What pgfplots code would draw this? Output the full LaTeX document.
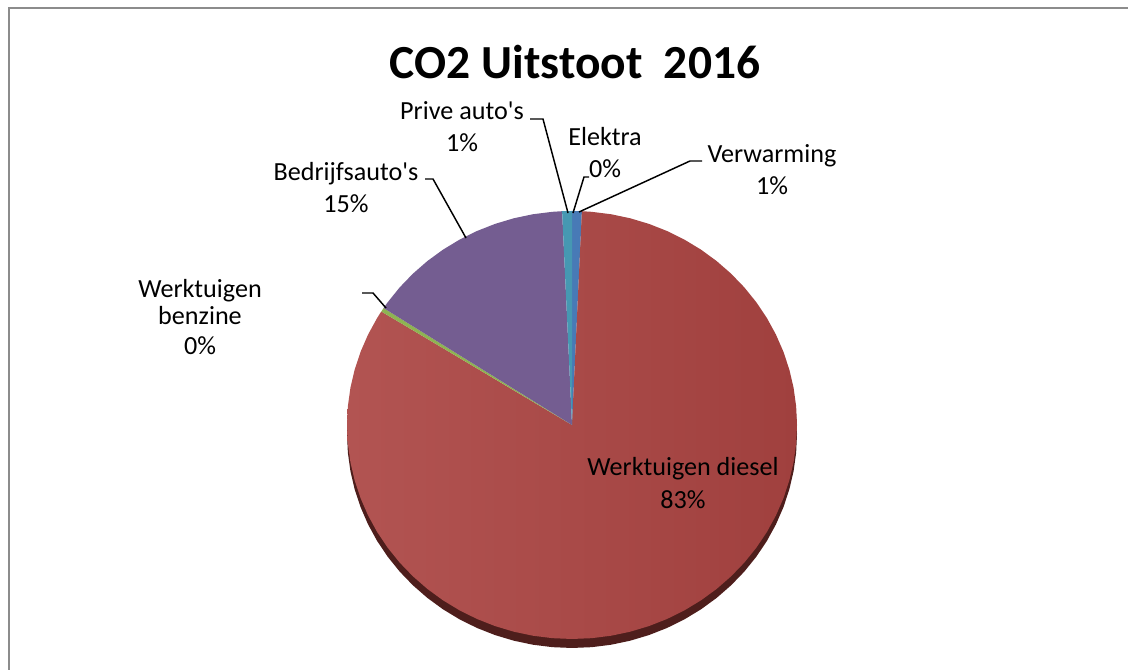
\documentclass[border=0pt]{standalone}
\usepackage{fontspec}
\setmainfont{Carlito}
\usepackage{pgfplots}
\pgfplotsset{compat=1.18}
\definecolor{cBlue}{RGB}{72,122,182}
\definecolor{cRedL}{RGB}{178,84,82}
\definecolor{cRedR}{RGB}{160,64,62}
\definecolor{cGreen}{RGB}{142,180,82}
\definecolor{cPurple}{RGB}{116,93,145}
\definecolor{cAqua}{RGB}{70,152,178}
\definecolor{cShadow}{RGB}{78,30,28}
\definecolor{cBorder}{RGB}{140,140,140}
\newcommand{\lbl}{\fontsize{19.6pt}{24pt}\selectfont}
\newcommand{\q}{\textquotesingle}
\pgfplotsset{
  pieaxis/.style={anchor=south west, scale only axis, width=846pt, height=502.5pt,
    xmin=-2.5422, xmax=2.4711, ymin=-1.1449, ymax=1.9860, hide axis, clip=false},
}
% Shares (%): Verwarming 0.7, Werktuigen diesel 83.2, Werktuigen benzine 0.3,
% Bedrijfsauto's 15.1, Prive auto's 0.7, Elektra 0.0 -> slice angles below (clockwise from top)
\begin{document}
\begin{tikzpicture}
% 3D side band of the pie
\begin{axis}[pieaxis, at={(0,-6.75pt)}]
\addplot[data cs=polar, fill=cShadow, draw=none] coordinates {(0,0) (87.48,1) (85,1) (80,1) (75,1) (70,1) (65,1) (60,1) (55,1) (50,1) (45,1) (40,1) (35,1) (30,1) (25,1) (20,1) (15,1) (10,1) (5,1) (0,1) (-5,1) (-10,1) (-15,1) (-20,1) (-25,1) (-30,1) (-35,1) (-40,1) (-45,1) (-50,1) (-55,1) (-60,1) (-65,1) (-70,1) (-75,1) (-80,1) (-85,1) (-90,1) (-95,1) (-100,1) (-105,1) (-110,1) (-115,1) (-120,1) (-125,1) (-130,1) (-135,1) (-140,1) (-145,1) (-150,1) (-155,1) (-160,1) (-165,1) (-170,1) (-175,1) (-180,1) (-185,1) (-190,1) (-195,1) (-200,1) (-205,1) (-210,1) (-212.04,1)} -- cycle;
\end{axis}
% pie top
\begin{axis}[pieaxis, at={(0,0)}]
% Verwarming 0.7%
\addplot[data cs=polar, fill=cBlue, draw=none] coordinates {(0,0) (90,1) (88.7,1) (87.48,1)} -- cycle;
% Werktuigen diesel 83.2%
\addplot[data cs=polar, draw=none, left color=cRedL, right color=cRedR] coordinates {(0,0) (87.48,1) (85,1) (80,1) (75,1) (70,1) (65,1) (60,1) (55,1) (50,1) (45,1) (40,1) (35,1) (30,1) (25,1) (20,1) (15,1) (10,1) (5,1) (0,1) (-5,1) (-10,1) (-15,1) (-20,1) (-25,1) (-30,1) (-35,1) (-40,1) (-45,1) (-50,1) (-55,1) (-60,1) (-65,1) (-70,1) (-75,1) (-80,1) (-85,1) (-90,1) (-95,1) (-100,1) (-105,1) (-110,1) (-115,1) (-120,1) (-125,1) (-130,1) (-135,1) (-140,1) (-145,1) (-150,1) (-155,1) (-160,1) (-165,1) (-170,1) (-175,1) (-180,1) (-185,1) (-190,1) (-195,1) (-200,1) (-205,1) (-210,1) (-212.04,1)} -- cycle;
% Werktuigen benzine 0.3%
\addplot[data cs=polar, fill=cGreen, draw=none] coordinates {(0,0) (-212.04,1) (-213.12,1)} -- cycle;
% Bedrijfsauto's 15.1%
\addplot[data cs=polar, fill=cPurple, draw=none] coordinates {(0,0) (-213.12,1) (-215,1) (-220,1) (-225,1) (-230,1) (-235,1) (-240,1) (-245,1) (-250,1) (-255,1) (-260,1) (-265,1) (-267.48,1)} -- cycle;
% Prive auto's 0.7%
\addplot[data cs=polar, fill=cAqua, draw=none] coordinates {(0,0) (-267.48,1) (-268.7,1) (-270,1)} -- cycle;
\end{axis}
% annotations in pixel coordinates
\begin{axis}[at={(0,0)}, anchor=south west, scale only axis, width=846pt, height=502.5pt,
  xmin=0, xmax=1128, ymin=0, ymax=670, y dir=reverse, hide axis, clip=false]
\fill[cBorder] (axis cs:8,672) rectangle (axis cs:10,6.7);
\fill[cBorder] (axis cs:8,6.7) rectangle (axis cs:1127.9,8.7);
\node[anchor=base, font=\fontsize{35.6pt}{42pt}\selectfont\bfseries] at (axis cs:575,79) {CO2 Uitstoot\ \ 2016};
\begin{scope}[black, line width=1.1pt]
\draw (axis cs:530,119) -- (axis cs:543,119) -- (axis cs:568,213);
\draw (axis cs:589,177) -- (axis cs:584,177) -- (axis cs:573,213);
\draw (axis cs:702,161) -- (axis cs:690,161) -- (axis cs:579,212);
\draw (axis cs:425,179) -- (axis cs:433,179) -- (axis cs:466,238);
\draw (axis cs:362,293) -- (axis cs:373,293) -- (axis cs:386,308);
\end{scope}
\node[anchor=base, font=\lbl] at (axis cs:462,120) {Prive auto\q s};
\node[anchor=base, font=\lbl] at (axis cs:462,152) {1\%};
\node[anchor=base, font=\lbl] at (axis cs:605,146) {Elektra};
\node[anchor=base, font=\lbl] at (axis cs:605,178) {0\%};
\node[anchor=base, font=\lbl] at (axis cs:772,163) {Verwarming};
\node[anchor=base, font=\lbl] at (axis cs:772,195) {1\%};
\node[anchor=base, font=\lbl] at (axis cs:346,181) {Bedrijfsauto\q s};
\node[anchor=base, font=\lbl] at (axis cs:346,213) {15\%};
\node[anchor=base, font=\lbl] at (axis cs:200,297) {Werktuigen};
\node[anchor=base, font=\lbl] at (axis cs:200,325) {benzine};
\node[anchor=base, font=\lbl] at (axis cs:200,354) {0\%};
\node[anchor=base, font=\lbl] at (axis cs:683,475) {Werktuigen diesel};
\node[anchor=base, font=\lbl] at (axis cs:683,508) {83\%};
\end{axis}
\pgfresetboundingbox
\useasboundingbox (0,0) rectangle (846pt,502.5pt);
\end{tikzpicture}
\end{document}
